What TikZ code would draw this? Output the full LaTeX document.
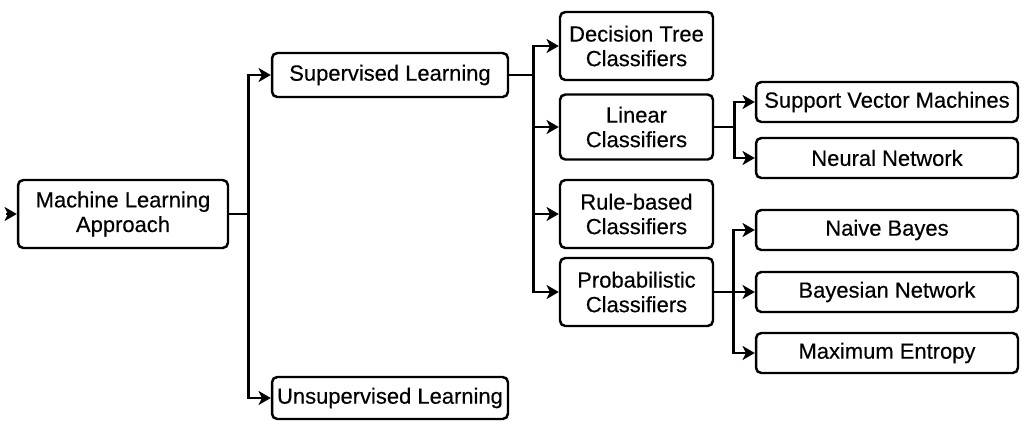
\documentclass[tikz,border=0pt]{standalone}
\usepackage{fontspec}
\setmainfont{Liberation Sans}
\newfontfamily\boxfont[FakeBold=0.35]{Liberation Sans}
\usetikzlibrary{arrows.meta,positioning,calc}

\begin{document}
\begin{tikzpicture}[x=0.02cm,y=-0.02cm,
    box/.style={draw, line width=1.4pt, rounded corners=3pt, align=center, inner sep=0pt,
      font=\boxfont\fontsize{12.5}{14}\selectfont},
    arr/.style={-{Stealth[length=7pt,width=8pt,inset=2pt]}, line width=1.7pt},
    lnk/.style={line width=1.7pt}]
          \useasboundingbox (0,0) rectangle (1022,420);
          % first level
          \node[box, minimum width=4.2cm, minimum height=1.36cm] (ml) at (123,214) {Machine Learning\\Approach};
          \node[box, minimum width=4.72cm, minimum height=0.88cm] (sup) at (390,75) {Supervised Learning};
          \node[box, minimum width=4.72cm, minimum height=0.84cm] (unsup) at (390,398) {Unsupervised Learning};
          % classifiers
          \node[box, minimum width=3.06cm, minimum height=1.36cm] (dt) at (636.5,46) {Decision Tree\\Classifiers};
          \node[box, minimum width=3.06cm, minimum height=1.3cm] (lin) at (636.5,127) {Linear\\Classifiers};
          \node[box, minimum width=3.06cm, minimum height=1.36cm] (rule) at (636.5,214) {Rule-based\\Classifiers};
          \node[box, minimum width=3.06cm, minimum height=1.36cm] (prob) at (636.5,292) {Probabilistic\\Classifiers};
          % methods
          \node[box, minimum width=5.24cm, minimum height=0.8cm] (svm) at (887,102) {Support Vector Machines};
          \node[box, minimum width=5.24cm, minimum height=0.8cm] (nn) at (887,158) {Neural Network};
          \node[box, minimum width=5.24cm, minimum height=0.8cm] (nb) at (887,230) {Naive Bayes};
          \node[box, minimum width=5.24cm, minimum height=0.8cm] (bn) at (887,292) {Bayesian Network};
          \node[box, minimum width=5.24cm, minimum height=0.8cm] (me) at (887,353) {Maximum Entropy};
          % links
          \coordinate (in) at (6,214);
          \draw[arr] (in) -- (ml.west);
          \draw[lnk] (ml.east) -- ++(19,0) coordinate (t1);
          \draw[arr] (t1) |- (sup.west);
          \draw[arr] (t1) |- (unsup.west);
          \draw[lnk] (sup.east) -- ++(24,0) coordinate (t2);
          \draw[arr] (t2) |- (dt.west);
          \draw[arr] (t2) |- (lin.west);
          \draw[arr] (t2) |- (rule.west);
          \draw[arr] (t2) |- (prob.west);
          \draw[lnk] (lin.east) -- ++(20,0) coordinate (t3);
          \draw[arr] (t3) |- (svm.west);
          \draw[arr] (t3) |- (nn.west);
          \draw[arr] (prob.east) -- (bn.west);
          \coordinate (t4) at ($(prob.east)+(19,0)$);
          \draw[arr] (t4) |- (nb.west);
          \draw[arr] (t4) |- (me.west);
        \end{tikzpicture}
\end{document}
